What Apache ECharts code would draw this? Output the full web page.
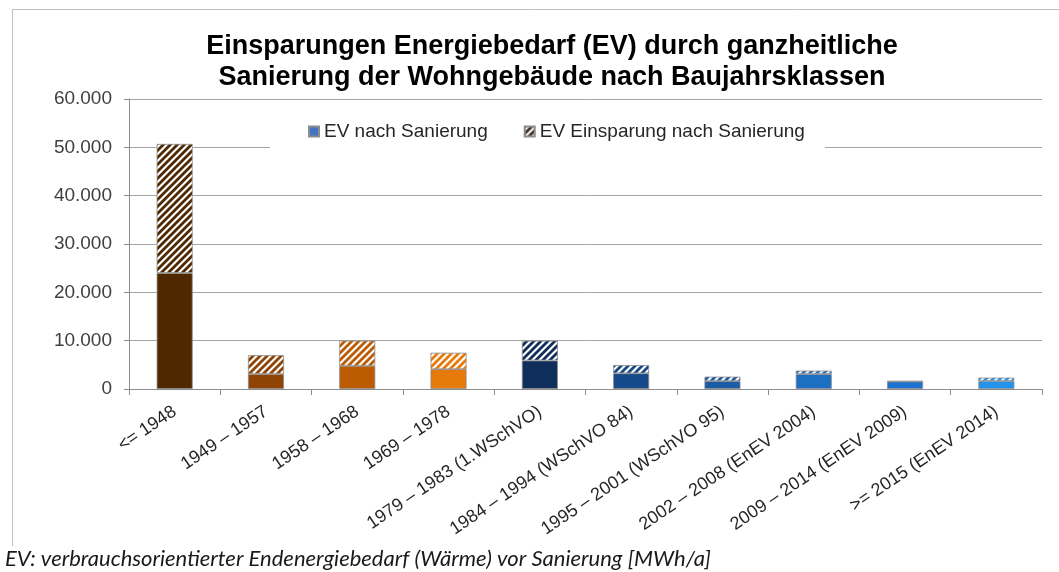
<!DOCTYPE html>
<html>
<head>
<meta charset="utf-8">
<title>Einsparungen Energiebedarf</title>
<script src="https://cdn.jsdelivr.net/npm/echarts@6/dist/echarts.min.js"></script>
<style>
    html, body { margin: 0; padding: 0; background: #fff; }
    #chart { width: 1059px; height: 572px; }
</style>
</head>
<body>
<div id="chart"></div>
<script>
// Baujahrsklassen
var categories = ['<= 1948', '1949 – 1957', '1958 – 1968', '1969 – 1978',
    '1979 – 1983 (1.WSchVO)', '1984 – 1994 (WSchVO 84)', '1995 – 2001 (WSchVO 95)',
    '2002 – 2008 (EnEV 2004)', '2009 – 2014 (EnEV 2009)', '>= 2015 (EnEV 2014)'];
// MWh/a
var evNachSanierung = [24000, 3100, 4800, 4100, 5900, 3250, 1650, 3100, 1550, 1650];
var evEinsparung = [26700, 3900, 5200, 3400, 4100, 1700, 900, 700, 100, 700];
var yTicks = [0, 10000, 20000, 30000, 40000, 50000, 60000];

var barColors = ['#4f2800', '#8f4304', '#bd5b02', '#e87a0c', '#0f2e5c',
    '#154a8a', '#1a5ba6', '#1d6fc4', '#1c72d0', '#2394ee'];

// schraffur als canvas-muster
function hatch(color) {
    var s = 7;
    var c = document.createElement('canvas');
    c.width = s;
    c.height = s;
    var ctx = c.getContext('2d');
    ctx.fillStyle = '#fff';
    ctx.fillRect(0, 0, s, s);
    ctx.strokeStyle = color;
    ctx.lineWidth = 2.8;
    ctx.beginPath();
    ctx.moveTo(-1, 1); ctx.lineTo(1, -1);
    ctx.moveTo(0, s); ctx.lineTo(s, 0);
    ctx.moveTo(s - 1, s + 1); ctx.lineTo(s + 1, s - 1);
    ctx.stroke();
    return { image: c, repeat: 'repeat' };
}

function fmt(v) {
    return String(v).replace(/\B(?=(\d{3})+(?!\d))/g, '.');
}

var myChart = echarts.init(document.getElementById('chart'));

var option = {
    animation: false,
    backgroundColor: '#fff',
    textStyle: { fontFamily: 'Liberation Sans, Arial, sans-serif' },
    title: {
        text: 'Einsparungen Energiebedarf (EV) durch ganzheitliche\nSanierung der Wohngebäude nach Baujahrsklassen',
        left: 547,
        top: 26,
        textAlign: 'center',
        textStyle: {
            fontSize: 27,
            fontWeight: 'bold',
            color: '#000',
            lineHeight: 31
        }
    },
    legend: {
        left: 270,
        top: 116,
        padding: [6, 20, 18, 38],
        backgroundColor: '#fff',
        itemWidth: 10,
        itemHeight: 10,
        itemGap: 36,
        icon: 'rect',
        textStyle: { fontSize: 19, color: '#262626' },
        data: ['EV nach Sanierung', 'EV Einsparung nach Sanierung']
    },
    grid: {
        left: 129,
        right: 17,
        top: 99,
        bottom: 183
    },
    xAxis: {
        type: 'category',
        data: categories,
        axisLine: { lineStyle: { color: '#8c8c8c' } },
        axisTick: { show: true, length: 6, lineStyle: { color: '#8c8c8c' } },
        axisLabel: {
            rotate: 34,
            margin: 21,
            fontSize: 18,
            color: '#262626',
            interval: 0
        }
    },
    yAxis: {
        type: 'value',
        min: 0,
        max: 60000,
        interval: 10000,
        axisLine: { show: true, lineStyle: { color: '#8c8c8c' } },
        axisTick: { show: true, length: 5, lineStyle: { color: '#8c8c8c' } },
        splitLine: { lineStyle: { color: '#a6a6a6' } },
        axisLabel: {
            fontSize: 19,
            color: '#404040',
            margin: 17,
            formatter: function(v) { return yTicks.indexOf(v) >= 0 ? fmt(v) : ''; }
        }
    },
    series: [{
        name: 'EV nach Sanierung',
        type: 'bar',
        stack: 'ev',
        barWidth: 36,
        itemStyle: { color: '#4472c4', borderColor: '#8c8c8c', borderWidth: 0.8 },
        data: evNachSanierung.map(function(v, i) {
            return { value: v, itemStyle: { color: barColors[i] } };
        })
    }, {
        name: 'EV Einsparung nach Sanierung',
        type: 'bar',
        stack: 'ev',
        barWidth: 36,
        itemStyle: { color: hatch('#3a2a1a'), borderColor: '#8c8c8c', borderWidth: 0.8 },
        data: evEinsparung.map(function(v, i) {
            return { value: v, itemStyle: { color: hatch(barColors[i]) } };
        })
    }],
    graphic: [{
        type: 'polyline',
        shape: { points: [[12.5, 546], [12.5, 9.5], [1059, 9.5]] },
        style: { stroke: '#bfbfbf', fill: null, lineWidth: 1 },
        silent: true
    }, {
        type: 'text',
        left: 5,
        top: 548,
        style: {
            text: 'EV: verbrauchsorientierter Endenergiebedarf (Wärme) vor Sanierung [MWh/a]',
            font: 'italic 22px Lato, "Open Sans", sans-serif',
            fill: '#1a1a1a'
        }
    }]
};
myChart.setOption(option);
</script>
</body>
</html>
